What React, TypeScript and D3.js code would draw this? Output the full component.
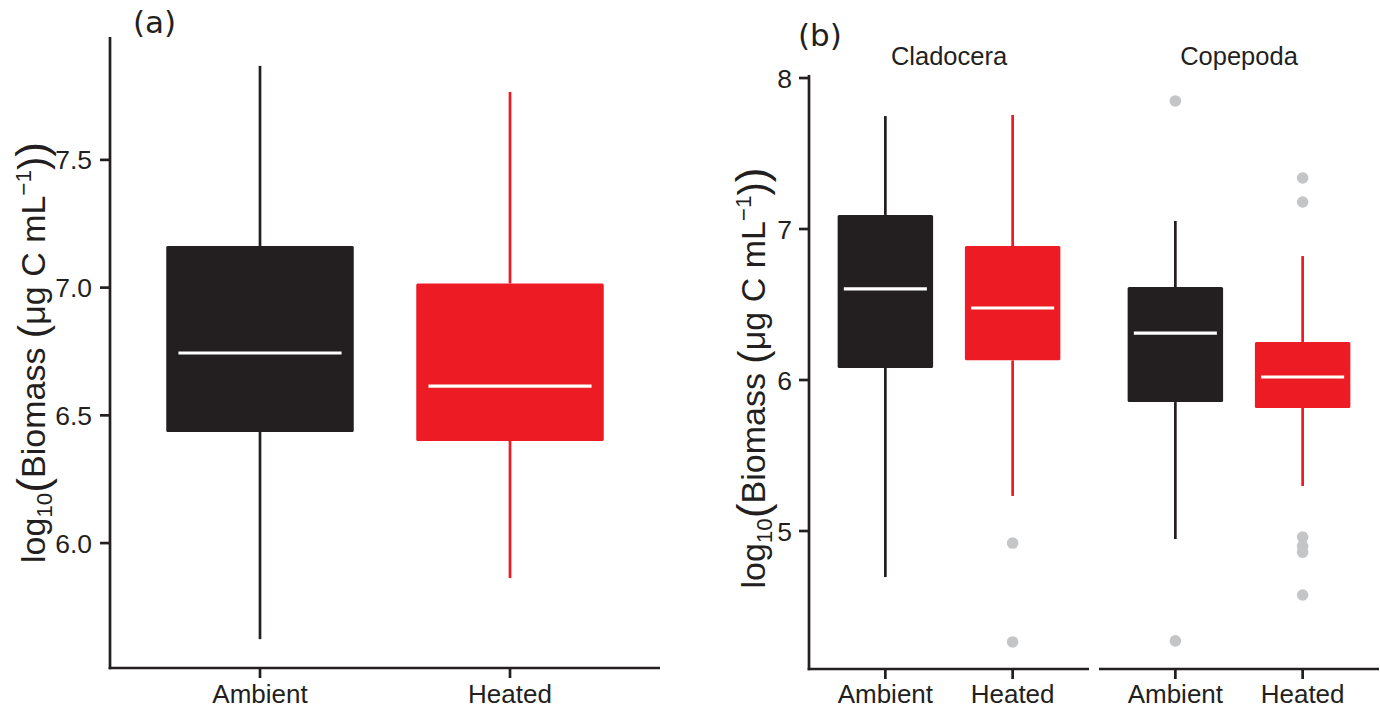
import React from "react";
import * as d3 from "d3";

// ---------- data ----------
const treatments = ["Ambient", "Heated"];
const taxa = ["Cladocera", "Copepoda"];

// five-number summaries: [lowerWhisker, q1, median, q3, upperWhisker]
const panelA_Ambient = [5.624, 6.435, 6.744, 7.163, 7.868];
const panelA_Heated = [5.863, 6.4, 6.614, 7.016, 7.766];

const clado_Ambient = [4.695, 6.08, 6.603, 7.093, 7.748];
const clado_Heated = [5.232, 6.13, 6.477, 6.887, 7.755];
const cope_Ambient = [4.947, 5.854, 6.311, 6.616, 7.053];
const cope_Heated = [5.298, 5.815, 6.02, 6.252, 6.821];

const clado_Ambient_out: number[] = [];
const clado_Heated_out = [4.92, 4.265];
const cope_Ambient_out = [7.848, 4.272];
const cope_Heated_out = [7.338, 7.179, 4.96, 4.9, 4.86, 4.576];

const ticksA = [6.0, 6.5, 7.0, 7.5];
const ticksB = [5, 6, 7, 8];

// ---------- style ----------
const INK = "#231f20";
const RED = "#ed1c24";
const GREY = "#c4c5c7";
const FONT = "'Liberation Sans', Arial, Helvetica, sans-serif";
const fillFor: Record<string, string> = { Ambient: INK, Heated: RED };

type Stats = number[];

function Box({ cx, w, y, s, color }: { cx: number; w: number; y: d3.ScaleLinear<number, number>; s: Stats; color: string }) {
  const [lo, q1, med, q3, hi] = s;
  const mw = w * 0.87;
  return (
    <g>
      <line x1={cx} x2={cx} y1={y(hi)} y2={y(q3)} stroke={color} strokeWidth={2.7} />
      <line x1={cx} x2={cx} y1={y(q1)} y2={y(lo)} stroke={color} strokeWidth={2.7} />
      <rect x={cx - w / 2} y={y(q3)} width={w} height={y(q1) - y(q3)} fill={color} rx={1.5} />
      <line x1={cx - mw / 2} x2={cx + mw / 2} y1={y(med)} y2={y(med)} stroke="#fff" strokeWidth={3.2} />
    </g>
  );
}

function YLabel({ x, y }: { x: number; y: number }) {
  const f = 34;
  const sub = f * 0.66;
  const bigP = f * 1.3;
  const midP = f * 1.18;
  return (
    <text transform={`translate(${x},${y}) rotate(-90)`} textAnchor="middle" fontSize={f} fill={INK} fontFamily={FONT}>
      <tspan>log</tspan>
      <tspan fontSize={sub} dy={7}>10</tspan>
      <tspan fontSize={bigP} dy={-4}>(</tspan>
      <tspan fontSize={f} dy={-3}>Biomass </tspan>
      <tspan fontSize={midP} dy={2}>(</tspan>
      <tspan fontSize={f} dy={-2}>μg C mL</tspan>
      <tspan fontSize={sub} dy={-14}>−1</tspan>
      <tspan fontSize={midP} dy={16}>)</tspan>
      <tspan fontSize={bigP} dy={0}>)</tspan>
    </text>
  );
}

export default function App() {
  // Panel A
  const aTop = 37, aBot = 668, aLeft = 110, aRight = 660;
  const yA = d3.scaleLinear().domain([5.511, 7.981]).range([aBot, aTop]);
  const xA = d3.scalePoint<string>().domain(treatments).range([aLeft, aRight]).padding(0.6);
  const boxWA = xA.step() * 0.75;
  const statsA: Record<string, Stats> = { Ambient: panelA_Ambient, Heated: panelA_Heated };

  // Panel B
  const bTop = 75, bBot = 669, bLeft = 809;
  const facetW = 280, facetGap = 10;
  const yB = d3.scaleLinear().domain([4.086, 8.02]).range([bBot, bTop]);
  const facetX = taxa.map((t, i) => {
    const x0 = bLeft + i * (facetW + facetGap);
    return d3.scalePoint<string>().domain(treatments).range([x0, x0 + facetW]).padding(0.6);
  });
  const boxWB = facetX[0].step() * 0.75;
  const statsB: Record<string, Record<string, Stats>> = {
    Cladocera: { Ambient: clado_Ambient, Heated: clado_Heated },
    Copepoda: { Ambient: cope_Ambient, Heated: cope_Heated },
  };
  const outB: Record<string, Record<string, number[]>> = {
    Cladocera: { Ambient: clado_Ambient_out, Heated: clado_Heated_out },
    Copepoda: { Ambient: cope_Ambient_out, Heated: cope_Heated_out },
  };

  const tickLen = 10;
  const lw = 2.7;
  const tickFont = 26.5;
  const xFont = 26;
  const xLabelY = 703;

  return (
    <svg width={1380} height={710} style={{ position: "absolute", left: 0, top: 0 }} fontFamily={FONT}>
      <rect width={1380} height={710} fill="#fff" />
      {/* ---------- Panel A ---------- */}
      <text x={133} y={33} fontSize={31} fill={INK} fontFamily="'DejaVu Sans', sans-serif">(a)</text>
      {treatments.map((t) => (
        <Box key={t} cx={xA(t)!} w={boxWA} y={yA} s={statsA[t]} color={fillFor[t]} />
      ))}
      <line x1={aLeft} x2={aLeft} y1={aTop} y2={aBot + lw / 2} stroke={INK} strokeWidth={lw} />
      <line x1={aLeft - lw / 2} x2={aRight} y1={aBot} y2={aBot} stroke={INK} strokeWidth={lw} />
      {ticksA.map((v) => (
        <g key={v}>
          <line x1={aLeft - tickLen} x2={aLeft} y1={yA(v)} y2={yA(v)} stroke={INK} strokeWidth={lw} />
          <text x={aLeft - tickLen - 8} y={yA(v)} dy="0.36em" textAnchor="end" fontSize={tickFont} fill={INK}>
            {d3.format(".1f")(v)}
          </text>
        </g>
      ))}
      {treatments.map((t) => (
        <g key={t}>
          <line x1={xA(t)!} x2={xA(t)!} y1={aBot} y2={aBot + tickLen} stroke={INK} strokeWidth={lw} />
          <text x={xA(t)!} y={xLabelY} textAnchor="middle" fontSize={xFont} fill={INK}>{t}</text>
        </g>
      ))}
      <YLabel x={45} y={(aTop + aBot) / 2} />

      {/* ---------- Panel B ---------- */}
      <text x={798} y={46} fontSize={31} fill={INK} fontFamily="'DejaVu Sans', sans-serif">(b)</text>
      {taxa.map((tx, i) => {
        const xs = facetX[i];
        const [r0, r1] = xs.range();
        return (
          <g key={tx}>
            <text x={(r0 + r1) / 2} y={65} textAnchor="middle" fontSize={25.5} fill={INK}>{tx}</text>
            {treatments.map((t) => (
              <g key={t}>
                <Box cx={xs(t)!} w={boxWB} y={yB} s={statsB[tx][t]} color={fillFor[t]} />
                {outB[tx][t].map((v, k) => (
                  <circle key={k} cx={xs(t)!} cy={yB(v)} r={5.8} fill={GREY} />
                ))}
              </g>
            ))}
            <line x1={i === 0 ? r0 - lw / 2 : r0} x2={r1} y1={bBot} y2={bBot} stroke={INK} strokeWidth={lw} />
            {treatments.map((t) => (
              <g key={t}>
                <line x1={xs(t)!} x2={xs(t)!} y1={bBot} y2={bBot + tickLen} stroke={INK} strokeWidth={lw} />
                <text x={xs(t)!} y={xLabelY} textAnchor="middle" fontSize={xFont} fill={INK}>{t}</text>
              </g>
            ))}
          </g>
        );
      })}
      <line x1={bLeft} x2={bLeft} y1={bTop} y2={bBot + lw / 2} stroke={INK} strokeWidth={lw} />
      {ticksB.map((v) => (
        <g key={v}>
          <line x1={bLeft - tickLen} x2={bLeft} y1={yB(v)} y2={yB(v)} stroke={INK} strokeWidth={lw} />
          <text x={bLeft - tickLen - 7} y={yB(v)} dy="0.36em" textAnchor="end" fontSize={tickFont} fill={INK}>
            {v}
          </text>
        </g>
      ))}
      <YLabel x={765} y={(bTop + bBot) / 2 + 6} />
    </svg>
  );
}
